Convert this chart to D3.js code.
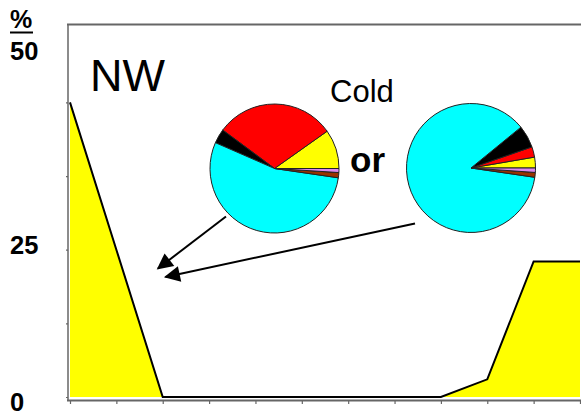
<!DOCTYPE html>
<html>
<head>
<meta charset="utf-8">
<script src="https://cdn.jsdelivr.net/npm/d3@7"></script>
<style>
  html, body { margin: 0; padding: 0; background: #fff; }
  svg { display: block; font-family: "Liberation Sans", Arial, sans-serif; }
</style>
</head>
<body>
<svg id="chart" width="581" height="416"></svg>
<script>
// Monthly frequency (%) of the NW pattern
const months = ["Jan", "Feb", "Mar", "Apr", "May", "Jun", "Jul", "Aug", "Sep", "Oct", "Nov", "Dec"];
const frequency = [50, 25, 0, 0, 0, 0, 0, 0, 0, 3, 23, 23];

// y-axis tick values and the labels printed beside the axis
const yTicks = [0, 12.5, 25, 37.5, 50];
const yLabels = ["50", "25", "0"];

// Composition of the two "Cold" pies (percent), slices in drawing order
const sliceKeys = ["yellow", "red", "black", "cyan", "brown", "violet"];
const pieLeft = [9.8, 30.0, 3.6, 54.2, 1.3, 1.0];
const pieRight = [2.7, 2.6, 5.6, 86.7, 1.2, 1.1];
const sliceColors = ["#ffff00", "#ff0000", "#000000", "#00ffff", "#993300", "#dd88ee"];

const svg = d3.select("#chart");

const x = d3.scalePoint().domain(d3.range(months.length)).range([70, 580]);
const y = d3.scaleLinear().domain([0, 63.3]).range([397, 24]);

// filled area + outline
const area = d3.area().x((d, i) => x(i)).y0(y(0)).y1(d => y(d));
const line = d3.line().x((d, i) => x(i)).y(d => y(d));

svg.append("path").datum(frequency)
  .attr("d", area).attr("fill", "#ffff00");
svg.append("path").datum(frequency)
  .attr("d", line).attr("fill", "none")
  .attr("stroke", "#000").attr("stroke-width", 2).attr("stroke-linejoin", "miter");

// frame: top and left borders, bottom axis line
const frameColor = "#666";
svg.append("line").attr("x1", 67).attr("x2", 581).attr("y1", 24.5).attr("y2", 24.5)
  .attr("stroke", frameColor).attr("stroke-width", 2);
svg.append("line").attr("x1", 68).attr("x2", 68).attr("y1", 24).attr("y2", 401)
  .attr("stroke", frameColor).attr("stroke-width", 1.5);
svg.append("line").attr("x1", 67).attr("x2", 581).attr("y1", 400.5).attr("y2", 400.5)
  .attr("stroke", frameColor).attr("stroke-width", 2);

// x ticks (unlabelled)
const xAxis = svg.append("g").attr("transform", "translate(0,401)")
  .call(d3.axisBottom(x).tickSize(3).tickFormat(""));
xAxis.select(".domain").remove();
xAxis.selectAll(".tick line").attr("stroke", frameColor).attr("stroke-width", 1.2);

// y ticks (unlabelled, labels placed separately)
const yAxis = svg.append("g").attr("transform", "translate(68,0)")
  .call(d3.axisLeft(y).tickValues(yTicks).tickSize(2).tickFormat(""));
yAxis.select(".domain").remove();
yAxis.selectAll(".tick line").attr("stroke", frameColor).attr("stroke-width", 1.2);

// y labels
svg.append("text").attr("x", 10).attr("y", 28)
  .attr("font-size", 25).attr("font-weight", "bold").text("%");
svg.append("line").attr("x1", 10).attr("x2", 33).attr("y1", 32.5).attr("y2", 32.5)
  .attr("stroke", "#000").attr("stroke-width", 2);
const labelBaselines = [60, 253.5, 411];
svg.selectAll("text.ylab").data(yLabels).join("text")
  .attr("class", "ylab")
  .attr("x", 10).attr("y", (d, i) => labelBaselines[i])
  .attr("font-size", 25.5).attr("font-weight", "bold").text(d => d);

// titles
svg.append("text").attr("x", 90).attr("y", 91)
  .attr("font-size", 45).text("NW");
svg.append("text").attr("x", 330).attr("y", 102)
  .attr("font-size", 31).text("Cold");
svg.append("text").attr("x", 350).attr("y", 172)
  .attr("font-size", 35).attr("font-weight", "bold").text("or");

// pies: slices laid out counter-clockwise from 3 o'clock
const pie = d3.pie().sort(null).startAngle(Math.PI / 2).endAngle(Math.PI / 2 - 2 * Math.PI);
const arc = d3.arc().innerRadius(0).outerRadius(64.5);

function drawPie(values, cx, cy) {
  const g = svg.append("g").attr("transform", `translate(${cx},${cy})`);
  g.selectAll("path").data(pie(values)).join("path")
    .attr("d", arc)
    .attr("fill", (d, i) => sliceColors[i])
    .attr("stroke", "#222").attr("stroke-width", 1)
    .attr("stroke-linejoin", "round");
}
drawPie(pieLeft, 274.5, 168.5);
drawPie(pieRight, 471, 168);

// arrows pointing into the empty summer months
const defs = svg.append("defs");
defs.append("marker").attr("id", "head")
  .attr("viewBox", "0 0 10 10").attr("refX", 9).attr("refY", 5)
  .attr("markerWidth", 9.5).attr("markerHeight", 8)
  .attr("markerUnits", "strokeWidth")
  .attr("orient", "auto")
  .append("path").attr("d", "M0,0 L10,5 L0,10 Z").attr("fill", "#000");

svg.append("line").attr("x1", 226).attr("y1", 216.5).attr("x2", 158).attr("y2", 268.5)
  .attr("stroke", "#000").attr("stroke-width", 2).attr("marker-end", "url(#head)");
svg.append("line").attr("x1", 415).attr("y1", 223.5).attr("x2", 165.5).attr("y2", 277)
  .attr("stroke", "#000").attr("stroke-width", 2).attr("marker-end", "url(#head)");
</script>
</body>
</html>
